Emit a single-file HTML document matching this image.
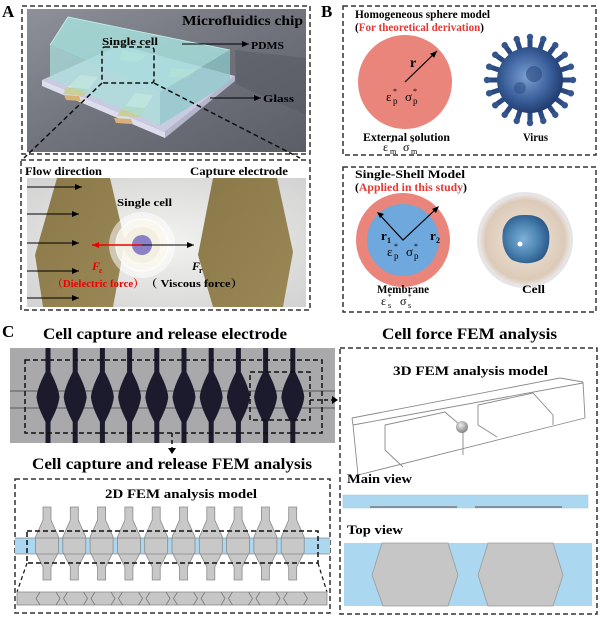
<!DOCTYPE html>
<html><head><meta charset="utf-8"><style>
html,body{margin:0;padding:0;background:#fff;}
svg{display:block;}
text{font-family:"Liberation Serif","Noto Serif CJK SC",serif;}
</style></head><body>
<svg width="600" height="617" viewBox="0 0 600 617" xmlns="http://www.w3.org/2000/svg">
<defs>
<linearGradient id="chipbg" x1="0" y1="0" x2="1" y2="1">
<stop offset="0" stop-color="#8e9199"/><stop offset="0.5" stop-color="#70737c"/><stop offset="1" stop-color="#5b5e66"/>
</linearGradient>
<radialGradient id="flowbg" cx="0.5" cy="0.5" r="0.7">
<stop offset="0" stop-color="#f2f2f0"/><stop offset="1" stop-color="#d2d2d2"/>
</radialGradient>
<linearGradient id="gold" x1="0" y1="0" x2="1" y2="1">
<stop offset="0" stop-color="#8a7848"/><stop offset="1" stop-color="#9a8756"/>
</linearGradient>
<radialGradient id="virus" cx="0.45" cy="0.45" r="0.6">
<stop offset="0" stop-color="#7aa0d4"/><stop offset="0.6" stop-color="#3a5f9a"/><stop offset="1" stop-color="#1c3566"/>
</radialGradient>
<radialGradient id="cellg" cx="0.5" cy="0.5" r="0.5">
<stop offset="0" stop-color="#f1e6da"/><stop offset="0.85" stop-color="#dccab8"/><stop offset="1" stop-color="#ececef"/>
</radialGradient>
<radialGradient id="nuc" cx="0.45" cy="0.5" r="0.55">
<stop offset="0" stop-color="#7eb0d8"/><stop offset="0.6" stop-color="#4a82b0"/><stop offset="1" stop-color="#2c5a8a"/>
</radialGradient>
<radialGradient id="ball" cx="0.4" cy="0.35" r="0.6">
<stop offset="0" stop-color="#eeeeee"/><stop offset="1" stop-color="#8a8a8a"/>
</radialGradient>
<marker id="ah" markerWidth="8" markerHeight="8" refX="7" refY="4" orient="auto" markerUnits="userSpaceOnUse">
<path d="M0,1 L7,4 L0,7 Z" fill="#000"/></marker>
<marker id="ahr" markerWidth="8" markerHeight="8" refX="7" refY="4" orient="auto" markerUnits="userSpaceOnUse">
<path d="M0,1 L7,4 L0,7 Z" fill="#e00"/></marker>
<path id="dia" d="M-2.5,348 L2.5,348 L2.5,372 C6,379 10.5,388 11.5,397 C10.5,406 6,415 2.5,422 L2.5,443 L-2.5,443 L-2.5,422 C-6,415 -10.5,406 -11.5,397 C-10.5,388 -6,379 -2.5,372 Z" fill="#1b1b2d"/>
<path id="el2" d="M-4,507 L4,507 L4,520 L11.5,537 L11.5,552 L4,567 L4,580 L-4,580 L-4,567 L-11.5,552 L-11.5,537 L-4,520 Z" fill="#c8c8c8" stroke="#8a8a8a" stroke-width="0.8"/>
<g id="sp"><path d="M0,-30 L0,-42" stroke="#2b4a82" stroke-width="5" stroke-linecap="round"/><circle cx="0" cy="-43" r="3.2" fill="#34558e"/></g>
</defs>

<!-- ================= PANEL A ================= -->
<text x="2" y="17" font-size="17" font-weight="bold">A</text>
<rect x="27" y="9" width="279" height="143" fill="url(#chipbg)"/>
<polygon points="235,50 306,58 306,115 236,84" fill="#55585f" opacity="0.5"/>
<polygon points="42,80 120,45 235,76 165,132" fill="#c9cbe0"/>
<polygon points="42,80 165,132 165,138 42,86" fill="#dddded"/>
<polygon points="165,132 235,76 235,81 165,138" fill="#b4b6cc"/>
<polygon points="64,95 79,96 81,101 66,100" fill="#d9b27a"/>
<polygon points="114,118 131,119 133,124 116,123" fill="#d9b27a"/>
<polygon points="80,75 98,77 88,90 67,88" fill="#fbf6e4"/>
<polygon points="67,87 88,89 84,96 63,94" fill="#c9cf98"/>
<polygon points="122,50 147,55 138,62 120,60" fill="#f8f2dc"/>
<polygon points="172,68 195,70 188,78 168,77" fill="#f2ecd4"/>
<polygon points="135,93 153,95 145,108 125,107" fill="#fdf8e6"/>
<polygon points="124,106 145,108 140,117 117,116" fill="#c9cf98"/>
<polygon points="50,45 68,17 230,50 160,92" fill="#a6dedb" opacity="0.85"/>
<polygon points="50,45 160,92 160,125 50,78" fill="#a9dedb" opacity="0.75"/>
<polygon points="160,92 230,50 230,82 160,125" fill="#8ccacb" opacity="0.75"/>
<polyline points="50,45 68,17 230,50" fill="none" stroke="#c8f0ec" stroke-width="0.8"/>
<text x="182" y="25" font-size="14" font-weight="bold" textLength="121" lengthAdjust="spacingAndGlyphs">Microfluidics chip</text>
<text x="102" y="45" font-size="11" font-weight="bold" textLength="56" lengthAdjust="spacingAndGlyphs">Single cell</text>
<line x1="182" y1="44" x2="249" y2="44" stroke="#000" stroke-width="1" marker-end="url(#ah)"/>
<text x="251" y="49" font-size="11" font-weight="bold" textLength="33" lengthAdjust="spacingAndGlyphs">PDMS</text>
<line x1="210" y1="98" x2="261" y2="98" stroke="#000" stroke-width="1" marker-end="url(#ah)"/>
<text x="263" y="102" font-size="11" font-weight="bold" textLength="31" lengthAdjust="spacingAndGlyphs">Glass</text>
<rect x="102" y="47" width="52" height="36" rx="3" fill="none" stroke="#111" stroke-width="1.5" stroke-dasharray="5,3"/>
<line x1="102" y1="83" x2="24" y2="158" stroke="#111" stroke-width="1.5" stroke-dasharray="5,3"/>
<line x1="154" y1="83" x2="300" y2="158" stroke="#111" stroke-width="1.5" stroke-dasharray="5,3"/>
<rect x="22" y="6" width="288" height="148" fill="none" stroke="#333" stroke-width="1.5" stroke-dasharray="5,3"/>

<!-- bottom A -->
<rect x="27" y="178" width="279" height="129" fill="url(#flowbg)"/>
<polygon points="57,178 110,178 125,242 113,307 43,307 35,255" fill="url(#gold)"/>
<polygon points="213,178 277,178 293,252 283,307 213,307 198,255" fill="url(#gold)"/>
<circle cx="142" cy="245" r="33" fill="#ffffff" opacity="0.55"/>
<circle cx="142" cy="245" r="26" fill="#fbf8ee" opacity="0.8" stroke="#ffffff" stroke-width="1.5"/>
<circle cx="142" cy="245" r="18" fill="#f3efe2"/>
<circle cx="142" cy="245" r="10" fill="#8c80c6"/>
<line x1="27" y1="187" x2="82" y2="187" stroke="#000" stroke-width="1" marker-end="url(#ah)"/>
<line x1="27" y1="214" x2="79" y2="214" stroke="#000" stroke-width="1" marker-end="url(#ah)"/>
<line x1="27" y1="243" x2="79" y2="243" stroke="#000" stroke-width="1" marker-end="url(#ah)"/>
<line x1="27" y1="271" x2="79" y2="271" stroke="#000" stroke-width="1" marker-end="url(#ah)"/>
<line x1="27" y1="298" x2="79" y2="298" stroke="#000" stroke-width="1" marker-end="url(#ah)"/>
<line x1="142" y1="245" x2="92" y2="245" stroke="#e00" stroke-width="1.5" marker-end="url(#ahr)"/>
<line x1="142" y1="245" x2="194" y2="245" stroke="#000" stroke-width="1" marker-end="url(#ah)"/>
<text x="25" y="175" font-size="12" font-weight="bold" textLength="77" lengthAdjust="spacingAndGlyphs">Flow direction</text>
<text x="190" y="175" font-size="12" font-weight="bold" textLength="98" lengthAdjust="spacingAndGlyphs">Capture electrode</text>
<text x="117" y="206" font-size="11" font-weight="bold" textLength="55" lengthAdjust="spacingAndGlyphs">Single cell</text>
<text x="92" y="270" font-size="12" font-weight="bold" font-style="italic" fill="#e00">F</text>
<text x="99" y="273" font-size="8" font-weight="bold" fill="#e00">ε</text>
<text x="192" y="270" font-size="12" font-weight="bold" font-style="italic">F</text>
<text x="199" y="273" font-size="8" font-weight="bold">r</text>
<text x="52" y="287" font-size="11" font-weight="bold" fill="#e00" textLength="92" lengthAdjust="spacingAndGlyphs">（Dielectric force）</text>
<text x="145" y="287" font-size="11" font-weight="bold" textLength="98" lengthAdjust="spacingAndGlyphs">（ Viscous force）</text>
<rect x="21" y="160" width="289" height="150" fill="none" stroke="#333" stroke-width="1.5" stroke-dasharray="5,3"/>

<!-- ================= PANEL B ================= -->
<text x="321" y="17" font-size="17" font-weight="bold">B</text>
<rect x="343" y="6" width="253" height="149" fill="none" stroke="#333" stroke-width="1.5" stroke-dasharray="5,3"/>
<text x="355" y="18" font-size="11.5" font-weight="bold" textLength="135" lengthAdjust="spacingAndGlyphs">Homogeneous sphere model</text>
<text x="355" y="31" font-size="11.5" font-weight="bold" textLength="129" lengthAdjust="spacingAndGlyphs">(<tspan fill="#e53935">For theoretical derivation</tspan>)</text>
<circle cx="405" cy="82" r="47" fill="#ea857c"/>
<line x1="405" y1="82" x2="437" y2="51" stroke="#000" stroke-width="1.2" marker-end="url(#ah)"/>
<text x="410" y="67" font-size="14" font-weight="bold">r</text>
<text x="386" y="101" font-size="13">ε</text><text x="393" y="94" font-size="8">*</text><text x="393" y="104" font-size="9">p</text>
<text x="405" y="101" font-size="13">σ</text><text x="413" y="94" font-size="8">*</text><text x="413" y="104" font-size="9">p</text>
<text x="363" y="141" font-size="12" font-weight="bold" textLength="87" lengthAdjust="spacingAndGlyphs">External solution</text>
<text x="383" y="151" font-size="12">ε</text><text x="390" y="145" font-size="7">*</text><text x="390" y="154" font-size="8">m</text>
<text x="403" y="151" font-size="12">σ</text><text x="411" y="145" font-size="7">*</text><text x="411" y="154" font-size="8">m</text>
<g transform="translate(530,80)">
<use href="#sp" transform="rotate(0)"/><use href="#sp" transform="rotate(18)"/><use href="#sp" transform="rotate(36)"/><use href="#sp" transform="rotate(54)"/>
<use href="#sp" transform="rotate(72)"/><use href="#sp" transform="rotate(90)"/><use href="#sp" transform="rotate(108)"/><use href="#sp" transform="rotate(126)"/>
<use href="#sp" transform="rotate(144)"/><use href="#sp" transform="rotate(162)"/><use href="#sp" transform="rotate(180)"/><use href="#sp" transform="rotate(198)"/>
<use href="#sp" transform="rotate(216)"/><use href="#sp" transform="rotate(234)"/><use href="#sp" transform="rotate(252)"/><use href="#sp" transform="rotate(270)"/>
<use href="#sp" transform="rotate(288)"/><use href="#sp" transform="rotate(306)"/><use href="#sp" transform="rotate(324)"/><use href="#sp" transform="rotate(342)"/>
<circle r="33" fill="url(#virus)"/>
<circle cx="4" cy="-6" r="8" fill="#2a4a80" opacity="0.6"/>
<circle cx="-10" cy="8" r="6" fill="#2a4a80" opacity="0.5"/>
</g>
<text x="523" y="141" font-size="12" font-weight="bold" textLength="25" lengthAdjust="spacingAndGlyphs">Virus</text>

<rect x="343" y="167" width="253" height="145" fill="none" stroke="#333" stroke-width="1.5" stroke-dasharray="5,3"/>
<text x="355" y="178" font-size="11.5" font-weight="bold" textLength="110" lengthAdjust="spacingAndGlyphs">Single-Shell Model</text>
<text x="355" y="191" font-size="11.5" font-weight="bold" textLength="112" lengthAdjust="spacingAndGlyphs">(<tspan fill="#e53935">Applied in this study</tspan>)</text>
<circle cx="403" cy="240" r="47" fill="#ea857c"/>
<circle cx="403" cy="240" r="36" fill="#6fa8dc"/>
<polyline points="378,213 403,240 437,208" fill="none" stroke="#000" stroke-width="1.2"/>
<path d="M377,212 L384,214 L380,218 Z" fill="#000"/>
<path d="M439,206 L436,213 L432,209 Z" fill="#000"/>
<text x="381" y="240" font-size="13" font-weight="bold">r</text><text x="387" y="243" font-size="8" font-weight="bold">1</text>
<text x="430" y="240" font-size="13" font-weight="bold">r</text><text x="436" y="243" font-size="8" font-weight="bold">2</text>
<text x="387" y="256" font-size="13">ε</text><text x="394" y="249" font-size="8">*</text><text x="394" y="259" font-size="9">p</text>
<text x="406" y="256" font-size="13">σ</text><text x="414" y="249" font-size="8">*</text><text x="414" y="259" font-size="9">p</text>
<text x="377" y="293" font-size="12" font-weight="bold" textLength="52" lengthAdjust="spacingAndGlyphs">Membrane</text>
<text x="381" y="305" font-size="12">ε</text><text x="388" y="299" font-size="7">*</text><text x="388" y="308" font-size="8">s</text>
<text x="400" y="305" font-size="12">σ</text><text x="408" y="299" font-size="7">*</text><text x="408" y="308" font-size="8">s</text>
<circle cx="525" cy="240" r="47" fill="url(#cellg)" stroke="#e4e4e8" stroke-width="2"/>
<path d="M503,230 Q508,214 525,215 Q545,214 549,232 Q551,250 542,259 Q528,267 512,260 Q500,250 503,230 Z" fill="url(#nuc)"/>
<circle cx="520" cy="244" r="2.5" fill="#ffffff"/>
<text x="522" y="293" font-size="12" font-weight="bold" textLength="23" lengthAdjust="spacingAndGlyphs">Cell</text>

<!-- ================= PANEL C ================= -->
<text x="2" y="337" font-size="17" font-weight="bold">C</text>
<text x="43" y="339" font-size="16" font-weight="bold" textLength="244" lengthAdjust="spacingAndGlyphs">Cell capture and release electrode</text>
<rect x="10" y="348" width="325" height="95" fill="#a9a9ab"/>
<line x1="10" y1="391" x2="335" y2="391" stroke="#55555c" stroke-width="1"/>
<line x1="10" y1="408" x2="335" y2="408" stroke="#55555c" stroke-width="1"/>
<use href="#dia" x="48"/><use href="#dia" x="75.2"/><use href="#dia" x="102.4"/><use href="#dia" x="129.6"/><use href="#dia" x="156.8"/>
<use href="#dia" x="184"/><use href="#dia" x="211.2"/><use href="#dia" x="238.4"/><use href="#dia" x="265.6"/><use href="#dia" x="292.8"/>
<rect x="25" y="360" width="297" height="73" fill="none" stroke="#111" stroke-width="1.5" stroke-dasharray="5,3"/>
<rect x="250" y="372" width="60" height="48" fill="none" stroke="#111" stroke-width="1.5" stroke-dasharray="5,3"/>
<line x1="310" y1="400" x2="332" y2="400" stroke="#111" stroke-width="1.5" stroke-dasharray="4,3"/>
<path d="M332,396 L338,400 L332,404 Z" fill="#000"/>
<line x1="172" y1="433" x2="172" y2="448" stroke="#111" stroke-width="1.5" stroke-dasharray="4,3"/>
<path d="M168,448 L176,448 L172,454 Z" fill="#000"/>

<text x="32" y="469" font-size="16" font-weight="bold" textLength="280" lengthAdjust="spacingAndGlyphs">Cell capture and release FEM analysis</text>
<rect x="15" y="479" width="315" height="134" fill="none" stroke="#333" stroke-width="1.5" stroke-dasharray="5,3"/>
<text x="105" y="498" font-size="13" font-weight="bold" textLength="152" lengthAdjust="spacingAndGlyphs">2D FEM analysis model</text>
<rect x="15" y="538" width="315" height="16" fill="#abd8f0"/>
<use href="#el2" x="47"/><use href="#el2" x="74.3"/><use href="#el2" x="101.6"/><use href="#el2" x="128.9"/><use href="#el2" x="156.2"/>
<use href="#el2" x="183.5"/><use href="#el2" x="210.8"/><use href="#el2" x="238.1"/><use href="#el2" x="265.4"/><use href="#el2" x="292.7"/>
<line x1="15" y1="538" x2="330" y2="538" stroke="#8a8a8a" stroke-width="0.8"/>
<line x1="15" y1="554" x2="330" y2="554" stroke="#8a8a8a" stroke-width="0.8"/>
<rect x="27" y="531" width="291" height="32" fill="none" stroke="#111" stroke-width="1.5" stroke-dasharray="5,3"/>
<line x1="27" y1="563" x2="17" y2="592" stroke="#111" stroke-width="1.2" stroke-dasharray="4,3"/>
<line x1="318" y1="563" x2="327" y2="592" stroke="#111" stroke-width="1.2" stroke-dasharray="4,3"/>
<rect x="17" y="592" width="310" height="13" fill="#c6c6c6" stroke="#8a8a8a" stroke-width="0.8"/>
<g fill="none" stroke="#7a7a7a" stroke-width="0.8">
<path d="M40,592 L36,598.5 L40,605 M56,592 L60,598.5 L56,605"/>
<path d="M67.5,592 L63.5,598.5 L67.5,605 M83.5,592 L87.5,598.5 L83.5,605"/>
<path d="M95,592 L91,598.5 L95,605 M111,592 L115,598.5 L111,605"/>
<path d="M122.5,592 L118.5,598.5 L122.5,605 M138.5,592 L142.5,598.5 L138.5,605"/>
<path d="M150,592 L146,598.5 L150,605 M166,592 L170,598.5 L166,605"/>
<path d="M177.5,592 L173.5,598.5 L177.5,605 M193.5,592 L197.5,598.5 L193.5,605"/>
<path d="M205,592 L201,598.5 L205,605 M221,592 L225,598.5 L221,605"/>
<path d="M232.5,592 L228.5,598.5 L232.5,605 M248.5,592 L252.5,598.5 L248.5,605"/>
<path d="M260,592 L256,598.5 L260,605 M276,592 L280,598.5 L276,605"/>
<path d="M287.5,592 L283.5,598.5 L287.5,605 M303.5,592 L307.5,598.5 L303.5,605"/>
</g>

<!-- right C -->
<text x="382" y="339" font-size="16" font-weight="bold" textLength="175" lengthAdjust="spacingAndGlyphs">Cell force FEM analysis</text>
<rect x="340" y="348" width="257" height="266" fill="none" stroke="#333" stroke-width="1.5" stroke-dasharray="5,3"/>
<text x="393" y="375" font-size="13" font-weight="bold" textLength="155" lengthAdjust="spacingAndGlyphs">3D FEM analysis model</text>
<g fill="none" stroke="#8a8a8a" stroke-width="0.9">
<line x1="352" y1="418" x2="560" y2="378"/>
<line x1="353" y1="425" x2="583" y2="383"/>
<line x1="560" y1="378" x2="583" y2="382"/>
<line x1="583" y1="382" x2="585" y2="418"/>
<line x1="585" y1="418" x2="358" y2="475"/>
<polyline points="352,418 353,425 358,475"/>
<polyline points="403,467 385,450 385,425 445,412 460,425"/>
<line x1="463" y1="432" x2="463" y2="455"/>
<polyline points="497,437 478,425 478,405 533,393 553,415 553,425"/>
</g>
<circle cx="462" cy="427" r="6" fill="url(#ball)"/>
<text x="347" y="483" font-size="13" font-weight="bold" textLength="65" lengthAdjust="spacingAndGlyphs">Main view</text>
<rect x="343" y="495" width="245" height="13" fill="#abd8f0" stroke="#9cc6dc" stroke-width="0.5"/>
<line x1="370" y1="507" x2="457" y2="507" stroke="#7a7a7a" stroke-width="1.5"/>
<line x1="475" y1="507" x2="562" y2="507" stroke="#7a7a7a" stroke-width="1.5"/>
<text x="347" y="534" font-size="13" font-weight="bold" textLength="56" lengthAdjust="spacingAndGlyphs">Top view</text>
<rect x="344" y="543" width="248" height="63" fill="#abd8f0"/>
<polygon points="382,543 448,543 458,575 448,606 383,606 372,575" fill="#c6c6c6" stroke="#9a9a9a" stroke-width="0.8"/>
<polygon points="488,543 553,543 563,575 553,606 488,606 478,575" fill="#c6c6c6" stroke="#9a9a9a" stroke-width="0.8"/>
</svg>
</body></html>
